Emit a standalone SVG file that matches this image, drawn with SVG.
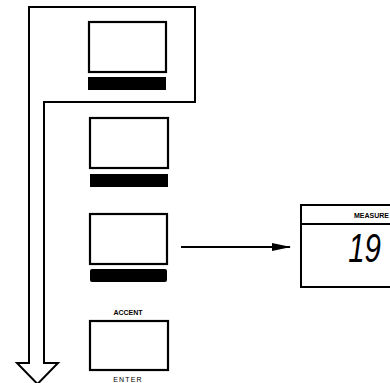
<svg xmlns="http://www.w3.org/2000/svg" width="390" height="383" viewBox="0 0 390 383">
<style>
.ln{fill:none;stroke:#000;stroke-width:2}
.box{fill:#fff;stroke:#000;stroke-width:2.2}
.bar{fill:#000}
.lbl{font-family:"Liberation Sans",Arial,sans-serif;font-weight:bold;font-size:7px;fill:#000}
</style>
<defs>
<marker id="ah" markerWidth="20" markerHeight="10" refX="18" refY="4" orient="auto" markerUnits="userSpaceOnUse">
<path d="M0,0 L19,4 L0,8 Z" fill="#000"/>
</marker>
</defs>
<rect width="390" height="383" fill="#fff"/>
<g id="connectors">
<path id="flow" class="ln" d="M44,363 L44,102 L195,102 L195,7 L29,7 L29,363 L17,363 L37.5,384 L58,363 Z"/>
<line x1="181" y1="247" x2="290" y2="247" stroke="#000" stroke-width="2" marker-end="url(#ah)"/>
</g>
<g id="step1">
<rect class="box" x="89" y="22" width="77" height="50"/>
<rect class="bar" x="88" y="77" width="78" height="13"/>
</g>
<g id="step2">
<rect class="box" x="90" y="118" width="78" height="50"/>
<rect class="bar" x="90" y="174" width="78" height="13"/>
</g>
<g id="step3">
<rect class="box" x="90" y="214" width="77" height="50"/>
<rect class="bar" x="90" y="269" width="77" height="13" rx="2"/>
</g>
<g id="step4">
<text class="lbl" x="128" y="315" text-anchor="middle">ACCENT</text>
<rect class="box" x="90" y="321" width="78" height="49"/>
<text class="lbl" x="128" y="382" text-anchor="middle" style="font-weight:normal;letter-spacing:1.2px">ENTER</text>
</g>
<g id="measure">
<path class="ln" d="M392,205 L301,205 L301,287 L392,287 M301,224 L392,224"/>
<text class="lbl" x="389" y="218" text-anchor="end" font-size="6.5">MEASURE</text>
<text transform="translate(381,262) scale(0.72,1)" text-anchor="end" font-family="Liberation Sans,Arial,sans-serif" font-style="italic" font-size="41" fill="#000">19</text>
</g>
</svg>
